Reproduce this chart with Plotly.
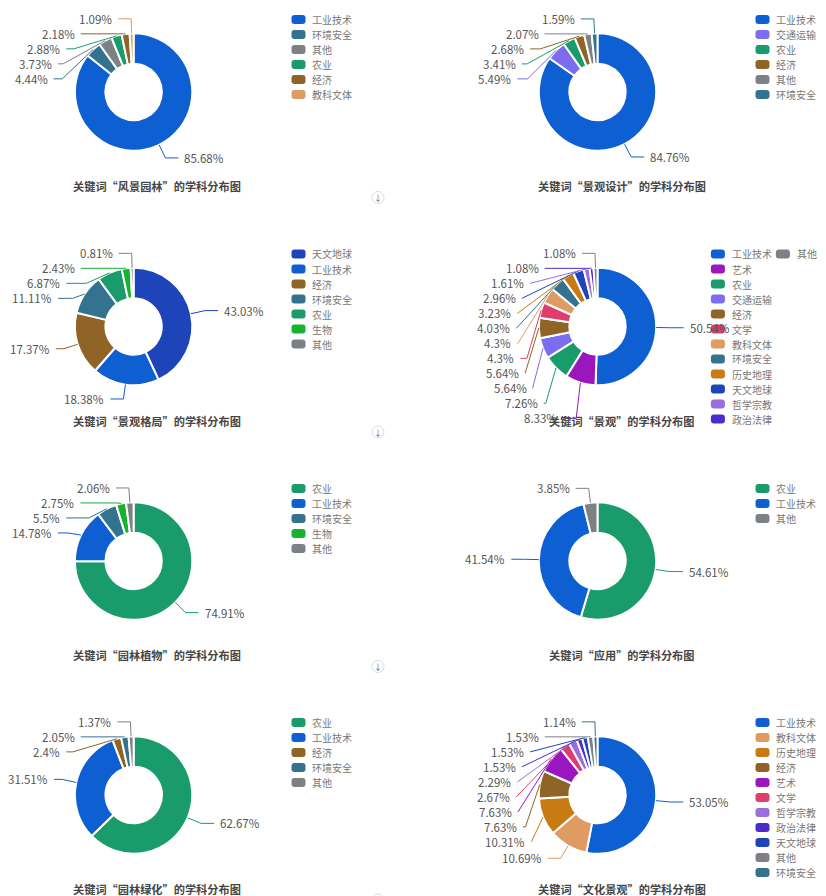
import math
import plotly.graph_objects as go

W, H = 826, 896

# ---- data: one pair of lists per keyword ----
fjyl_cats = ["工业技术", "环境安全", "其他", "农业", "经济", "教科文体"]
fjyl_vals = [85.68, 4.44, 3.73, 2.88, 2.18, 1.09]

jgsj_cats = ["工业技术", "交通运输", "农业", "经济", "其他", "环境安全"]
jgsj_vals = [84.76, 5.49, 3.41, 2.68, 2.07, 1.59]

jggj_cats = ["天文地球", "工业技术", "经济", "环境安全", "农业", "生物", "其他"]
jggj_vals = [43.03, 18.38, 17.37, 11.11, 6.87, 2.43, 0.81]

jg_cats = ["工业技术", "艺术", "农业", "交通运输", "经济", "文学", "教科文体",
           "环境安全", "历史地理", "天文地球", "哲学宗教", "政治法律", "其他"]
jg_vals = [50.54, 8.33, 7.26, 5.64, 5.64, 4.3, 4.3, 4.03, 3.23, 2.96, 1.61, 1.08, 1.08]

ylzw_cats = ["农业", "工业技术", "环境安全", "生物", "其他"]
ylzw_vals = [74.91, 14.78, 5.5, 2.75, 2.06]

yy_cats = ["农业", "工业技术", "其他"]
yy_vals = [54.61, 41.54, 3.85]

ylsh_cats = ["农业", "工业技术", "经济", "环境安全", "其他"]
ylsh_vals = [62.67, 31.51, 2.4, 2.05, 1.37]

whjg_cats = ["工业技术", "教科文体", "历史地理", "经济", "艺术", "文学", "哲学宗教",
             "政治法律", "天文地球", "其他", "环境安全"]
whjg_vals = [53.05, 10.69, 10.31, 7.63, 7.63, 2.67, 2.29, 1.53, 1.53, 1.53, 1.14]

keywords = ["风景园林", "景观设计", "景观格局", "景观", "园林植物", "应用", "园林绿化", "文化景观"]

cat_colors = {
    "工业技术": "#0e5fd2",
    "环境安全": "#33738f",
    "其他": "#7d8084",
    "农业": "#1a9b6c",
    "经济": "#8f6426",
    "教科文体": "#df9c62",
    "交通运输": "#7b6cf0",
    "天文地球": "#1e44ba",
    "生物": "#17b32e",
    "艺术": "#9a16bf",
    "文学": "#df3d6e",
    "历史地理": "#c87a13",
    "哲学宗教": "#9b6ede",
    "政治法律": "#4a2bcc",
}

charts = [
    (fjyl_cats, fjyl_vals), (jgsj_cats, jgsj_vals),
    (jggj_cats, jggj_vals), (jg_cats, jg_vals),
    (ylzw_cats, ylzw_vals), (yy_cats, yy_vals),
    (ylsh_cats, ylsh_vals), (whjg_cats, whjg_vals),
]

# ---- geometry (pixels) ----
COL_CX = [133.6, 597.5]
ROW_CY = [92, 326.5, 561, 795]
TITLE_X = [156.7, 621.5]
LEGEND_RIGHT = [352, 816]
R = 58.7
HOLE = 0.48
L1, L2, DIST, LH = 14.5, 13, 5, 15
FONT = "Noto Sans CJK SC, Noto Sans, sans-serif"


def px(x):
    return x / W


def py(y):
    return 1 - y / H


def limit_turn(p0, p1, p2):
    # echarts minTurnAngle = 90
    ax, ay = p0[0] - p1[0], p0[1] - p1[1]
    bx, by = p2[0] - p1[0], p2[1] - p1[1]
    la, lb = math.hypot(ax, ay), math.hypot(bx, by)
    if la < 1e-3 or lb < 1e-3:
        return p1
    bx, by = bx / lb, by / lb
    if (ax * bx + ay * by) / la > 0:
        t = (p0[0] - p1[0]) * bx + (p0[1] - p1[1]) * by
        t = max(0, min(lb, t))
        return (p1[0] + bx * t, p1[1] + by * t)
    return p1


def limit_surface(p0, p1, p2, n):
    # echarts maxSurfaceAngle = 90
    ax, ay = p1[0] - p0[0], p1[1] - p0[1]
    bx, by = p2[0] - p1[0], p2[1] - p1[1]
    la, lb = math.hypot(ax, ay), math.hypot(bx, by)
    if la < 1e-3 or lb < 1e-3:
        return p1
    bx, by = bx / lb, by / lb
    if (ax * n[0] + ay * n[1]) / la < 0:
        t0 = (p0[0] - p1[0]) * bx + (p0[1] - p1[1]) * by
        projx, projy = p1[0] + bx * t0, p1[1] + by * t0
        d = math.hypot(p0[0] - projx, p0[1] - projy)
        ang2 = math.acos(max(-1, min(1, bx * n[0] + by * n[1])))
        if ang2 >= math.pi / 2:
            return p2
        t = t0 + d * math.tan(ang2)
        t = max(0, min(lb, t))
        return (p1[0] + bx * t, p1[1] + by * t)
    return p1


def label_layout(vals, cx, cy):
    total = sum(vals)
    items = []
    acc = 0.0
    for i, v in enumerate(vals):
        a = (acc + v / 2) / total * 2 * math.pi
        acc += v
        nx, ny = math.sin(a), -math.cos(a)
        d = 1 if nx > 1e-9 else -1
        x2 = cx + (R + L1) * nx
        y2 = cy + (R + L1) * ny
        items.append(dict(i=i, n=(nx, ny), dir=d, p0=(cx + R * nx, cy + R * ny),
                          x2=x2, y=y2, tx=x2 + d * (L2 + DIST)))
    for d in (-1, 1):
        side = sorted([it for it in items if it["dir"] == d], key=lambda it: it["y"])
        if len(side) < 2:
            continue
        moved = False
        last = -1e9
        for it in side:
            top = it["y"] - LH / 2
            if top < last:
                it["y"] += last - top
                moved = True
            last = it["y"] + LH / 2
        if not moved:
            continue
        rA = R + L1
        for semi in ([it for it in side if it["y"] > cy], [it for it in side if it["y"] <= cy]):
            if not semi:
                continue
            ref = max(semi, key=lambda it: abs(it["y"] - cy))
            dy = abs(ref["y"] - cy)
            dx = abs(ref["tx"] - cx - L2 * d)
            rB = math.sqrt(dy * dy / (1 - dx * dx / rA / rA)) if dx < rA else rA
            for it in semi:
                dy = abs(it["y"] - cy)
                ddx = math.sqrt(max(0.0, 1 - dy * dy / rB / rB)) * rA
                it["tx"] = cx + (ddx + L2) * d
    for it in items:
        d = it["dir"]
        p0 = it["p0"]
        p1 = (it["x2"], it["y"])
        p2 = (it["tx"] - d * DIST, it["y"])
        p1 = limit_turn(p0, p1, p2)
        p1 = limit_surface(p0, p1, p2, it["n"])
        it["line"] = (p0, p1, p2)
    return items


def rrect_path(x0, y0, w, h, rad):
    x1, y1 = x0 + w, y0 + h
    return (f"M{px(x0 + rad)},{py(y0)} L{px(x1 - rad)},{py(y0)} "
            f"Q{px(x1)},{py(y0)} {px(x1)},{py(y0 + rad)} L{px(x1)},{py(y1 - rad)} "
            f"Q{px(x1)},{py(y1)} {px(x1 - rad)},{py(y1)} L{px(x0 + rad)},{py(y1)} "
            f"Q{px(x0)},{py(y1)} {px(x0)},{py(y1 - rad)} L{px(x0)},{py(y0 + rad)} "
            f"Q{px(x0)},{py(y0)} {px(x0 + rad)},{py(y0)} Z")


fig = go.Figure()
shapes = []
annotations = []

for k, (cats, vals) in enumerate(charts):
    col, row = k % 2, k // 2
    cx, cy = COL_CX[col], ROW_CY[row]
    colors = [cat_colors[c] for c in cats]

    fig.add_trace(go.Pie(
        labels=cats, values=vals, sort=False, direction="clockwise", rotation=0,
        hole=HOLE, textinfo="none", hoverinfo="label+percent",
        marker=dict(colors=colors, line=dict(color="#ffffff", width=2)),
        domain=dict(x=[px(cx - R), px(cx + R)], y=[py(cy + R), py(cy - R)]),
        showlegend=False,
    ))

    # outside labels with leader lines
    for it in label_layout(vals, cx, cy):
        p0, p1, p2 = it["line"]
        c = colors[it["i"]]
        shapes.append(dict(
            type="path", xref="paper", yref="paper", layer="above",
            path=f"M{px(p0[0])},{py(p0[1])} L{px(p1[0])},{py(p1[1])} L{px(p2[0])},{py(p2[1])}",
            line=dict(color=c, width=1),
        ))
        annotations.append(dict(
            x=px(it["tx"]), y=py(it["y"]), xref="paper", yref="paper",
            text=f"{vals[it['i']]:g}%", showarrow=False,
            xanchor="left" if it["dir"] > 0 else "right", yanchor="middle",
            font=dict(family=FONT, size=11.5, color="#555555"), borderpad=0,
        ))

    # legend (column wrap at 12 rows)
    nrows = 12
    ncols = (len(cats) + nrows - 1) // nrows
    last_col = cats[(ncols - 1) * nrows:]
    lx0 = LEGEND_RIGHT[col] - ((ncols - 1) * 65 + 19.7 + max(len(c) for c in last_col) * 10.2)
    ly0 = cy - 72.5
    for j, c in enumerate(cats):
        sx = lx0 + (j // nrows) * 65
        sy = ly0 + (j % nrows) * 15
        shapes.append(dict(
            type="path", xref="paper", yref="paper", layer="above",
            path=rrect_path(sx, sy - 4.5, 14, 9, 3),
            fillcolor=cat_colors[c], line=dict(width=0),
        ))
        annotations.append(dict(
            x=px(sx + 19.7), y=py(sy), xref="paper", yref="paper", text=c,
            showarrow=False, xanchor="left", yanchor="middle", borderpad=0,
            font=dict(family=FONT, size=10, color="#777777"),
        ))

    # title
    annotations.append(dict(
        x=px(TITLE_X[col]), y=py(cy + 94), xref="paper", yref="paper",
        text=f"<b>关键词“{keywords[k]}”的学科分布图</b>", showarrow=False,
        xanchor="center", yanchor="middle", borderpad=0,
        font=dict(family=FONT, size=11.2, color="#464646"),
    ))

# small download buttons between the rows (the last one is cut by the page edge)
icon_y = [197.5, 432, 666.5, 900]
for y in icon_y:
    shapes.append(dict(
        type="circle", xref="paper", yref="paper",
        x0=px(372), x1=px(384), y0=py(y + 6), y1=py(y - 6),
        line=dict(color="#dcdcdc", width=1), fillcolor="#ffffff",
    ))
    if y + 6 < H:
        annotations.append(dict(
            x=px(378), y=py(y), xref="paper", yref="paper", text="↓", showarrow=False,
            xanchor="center", yanchor="middle", borderpad=0,
            font=dict(family=FONT, size=8, color="#666666"),
        ))

fig.update_layout(
    width=W, height=H,
    margin=dict(l=0, r=0, t=0, b=0),
    paper_bgcolor="#ffffff", plot_bgcolor="#ffffff",
    showlegend=False,
    shapes=shapes, annotations=annotations,
)

# the page's default body margin would push the figure off the window
fig.write_html("out.html", config={"displayModeBar": False},
               post_script="document.body.style.margin='0px';")
